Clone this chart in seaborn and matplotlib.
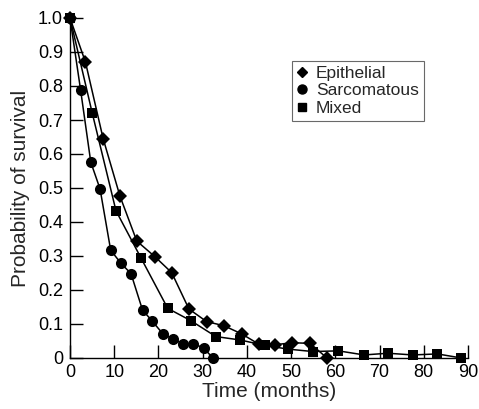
import numpy as np
import pandas as pd
import seaborn as sns
from matplotlib import pyplot as plt
from matplotlib.lines import Line2D

# Kaplan-Meier style survival by histological type
epi_t = [0, 3.5, 7.5, 11.3, 15.1, 19.2, 23.0, 26.9, 30.9, 34.8, 38.8, 42.8, 46.4, 50.2, 54.3, 58.1]
epi_p = [1.0, 0.87, 0.645, 0.476, 0.344, 0.298, 0.251, 0.144, 0.107, 0.095, 0.071, 0.04, 0.039, 0.045, 0.043, 0.0]

sarc_t = [0, 2.4, 4.7, 6.8, 9.2, 11.5, 13.8, 16.4, 18.5, 21.0, 23.2, 25.5, 27.8, 30.2, 32.3]
sarc_p = [1.0, 0.788, 0.576, 0.497, 0.317, 0.279, 0.248, 0.141, 0.11, 0.071, 0.056, 0.042, 0.042, 0.03, 0.0]

mix_t = [0, 5.0, 10.4, 16.1, 22.1, 27.3, 33.0, 38.5, 44.0, 49.4, 54.9, 60.7, 66.5, 71.9, 77.5, 83.1, 88.5]
mix_p = [1.0, 0.722, 0.433, 0.293, 0.146, 0.11, 0.063, 0.053, 0.037, 0.026, 0.019, 0.021, 0.009, 0.014, 0.009, 0.012, 0.0]

groups = ['Epithelial', 'Sarcomatous', 'Mixed']
marks = {'Epithelial': 'D', 'Sarcomatous': 'o', 'Mixed': 's'}

xticks = list(range(0, 100, 10))
yticks = [0, 0.1, 0.2, 0.3, 0.4, 0.5, 0.6, 0.7, 0.8, 0.9, 1.0]
ylabels = ['0', '0.1', '0.2', '0.3', '0.4', '0.5', '0.6', '0.7', '0.8', '0.9', '1.0']

df = pd.concat([
    pd.DataFrame({'t': epi_t, 'p': epi_p, 'type': 'Epithelial'}),
    pd.DataFrame({'t': sarc_t, 'p': sarc_p, 'type': 'Sarcomatous'}),
    pd.DataFrame({'t': mix_t, 'p': mix_p, 'type': 'Mixed'}),
])

sns.set_style('ticks')
plt.rcParams['font.family'] = ['Liberation Sans', 'DejaVu Sans']

fig = plt.figure(figsize=(4.79, 4.09), dpi=100)
ax = fig.add_axes([70 / 479, 1 - 358 / 409, 398 / 479, 340 / 409])

sizes = {'Epithelial': 7, 'Sarcomatous': 8, 'Mixed': 7.5}
for g in groups:
    sns.lineplot(data=df[df.type == g], x='t', y='p', ax=ax, color='black',
                 marker=marks[g], markersize=sizes[g], markeredgewidth=0,
                 linewidth=1.1, sort=False, estimator=None, clip_on=False,
                 legend=False)

ax.set_xlim(0, 90)
ax.set_ylim(0, 1.0)
ax.set_xticks(xticks)
ax.set_yticks(yticks)
ax.set_yticklabels(ylabels)
ax.tick_params(direction='in', length=9.5, width=1, labelsize=13, colors='black', pad=5)
ax.tick_params(axis='x', pad=4)
for s in ['top', 'right']:
    ax.spines[s].set_visible(False)
for s in ['left', 'bottom']:
    ax.spines[s].set_linewidth(1)
    ax.spines[s].set_color('black')

ax.set_xlabel('Time (months)', fontsize=15, labelpad=1)
ax.set_ylabel('Probability of survival', fontsize=15, labelpad=6)

handles = [Line2D([], [], color='black', marker=marks[g], linestyle='none',
                  markersize={'Epithelial': 5.5, 'Sarcomatous': 6.5, 'Mixed': 6}[g]) for g in groups]
leg = ax.legend(handles, groups, loc='upper left', bbox_to_anchor=(0.557, 0.874),
                borderaxespad=0, frameon=True, fancybox=False, fontsize=12.5,
                handlelength=0.6, handletextpad=0.5, labelspacing=0.12,
                borderpad=0.3)
leg.get_frame().set_edgecolor('#444444')
leg.get_frame().set_linewidth(0.8)

plt.savefig('out.png', dpi=100)
